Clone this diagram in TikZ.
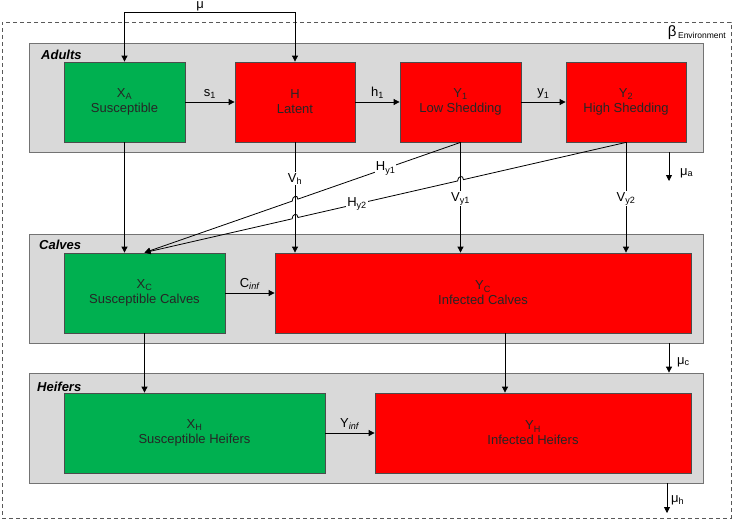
\documentclass[tikz,border=0pt]{standalone}
\usepackage{fontspec}
\setmainfont{Liberation Sans}
\usetikzlibrary{arrows.meta, positioning, calc}
\definecolor{suscep}{RGB}{0,176,80}
\definecolor{infect}{RGB}{255,0,0}
\definecolor{panel}{RGB}{217,217,217}

\begin{document}
\begin{tikzpicture}[
  x=1pt, y=-1pt,
  txt/.style={font=\fontsize{13}{15}\selectfont},
  comp/.style={draw=black!70, line width=0.8pt, minimum height=80pt, align=center,
               txt, text=black!85, inner sep=0pt},
  sus/.style={comp, fill=suscep},
  inf/.style={comp, fill=infect},
  grp/.style={draw=black!55, line width=0.8pt, fill=panel, minimum width=674pt, inner sep=0pt},
  ttl/.style={font=\fontsize{13}{15}\selectfont\bfseries\itshape, anchor=west, inner sep=0pt},
  lbl/.style={txt, inner sep=1pt},
  wlbl/.style={lbl, fill=white},
  arr/.style={-{Triangle[length=6pt, width=6pt]}, line width=0.8pt}
]
  \useasboundingbox (0,0) rectangle (733,520);

  % environment and age groups
  \node[draw=black!65, line width=0.8pt, dash pattern=on 4pt off 3pt, minimum width=729pt,
        minimum height=496pt, inner sep=0pt] (env) at (366.5,270) {};
  \node[anchor=east, inner sep=0pt] (envlbl) at (726,33)
    {{\fontsize{15}{17}\selectfont β}\,\raisebox{-2pt}{\fontsize{8.5}{10}\selectfont Environment}};

  \node[grp, minimum height=109pt] (adults) at (366,97.5) {};
  \node[grp, minimum height=109pt] (calves) at (366,288.5) {};
  \node[grp, minimum height=110pt] (heifers) at (366,428) {};
  \node[ttl] (adultsttl) at (41,55) {Adults};
  \node[ttl] (calvesttl) at (39,245) {Calves};
  \node[ttl] (heifersttl) at (37,387) {Heifers};

  % compartments
  \node[sus, minimum width=121pt] (XA) at (124.5,102) {X\textsubscript{A}\\Susceptible};
  \node[inf, minimum width=120pt] (H) at (295,102) {H\\Latent};
  \node[inf, minimum width=121pt] (Y1) at (460.5,102) {Y\textsubscript{1}\\Low Shedding};
  \node[inf, minimum width=120pt] (Y2) at (626,102) {Y\textsubscript{2}\\High Shedding};
  \node[sus, minimum width=161pt] (XC) at (144.5,293) {X\textsubscript{C}\\Susceptible Calves};
  \node[inf, minimum width=416pt] (YC) at (483,293) {Y\textsubscript{C}\\Infected Calves};
  \node[sus, minimum width=261pt] (XH) at (194.5,433) {X\textsubscript{H}\\Susceptible Heifers};
  \node[inf, minimum width=316pt] (YH) at (533,433) {Y\textsubscript{H}\\Infected Heifers};

  % birth
  \node[lbl, anchor=base, inner sep=0pt] (mu) at (200,8.5) {μ};
  \coordinate (mubar) at (200,12);
  \draw[arr] (mubar) -| (XA.north);
  \draw[arr] (mubar) -| (H.north);

  % progression
  \draw[arr] (XA) -- node[lbl, above=2pt] {s\textsubscript{1}} (H);
  \draw[arr] (H) -- node[lbl, above=2pt] {h\textsubscript{1}} (Y1);
  \draw[arr] (Y1) -- node[lbl, above=2pt] {y\textsubscript{1}} (Y2);
  \draw[arr] (XC) -- node[lbl, above=2pt] {C\textsubscript{\textit{inf}}} (YC);
  \draw[arr] (XH) -- node[lbl, above=2pt] {Y\textsubscript{\textit{inf}}} (YH);

  % vertical transmission
  \coordinate (vh) at (H.south |- YC.north);
  \coordinate (vy1) at (Y1.south |- YC.north);
  \coordinate (vy2) at (Y2.south |- YC.north);
  \draw[arr] (XA.south) -- (XA.south |- XC.north);
  \draw[arr] (H.south) -- node[wlbl, pos=0.33] {V\textsubscript{h}} (vh);
  \draw[arr] (Y1.south) -- node[wlbl, pos=0.51] {V\textsubscript{y1}} (vy1);
  \draw[arr] (Y2.south) -- node[wlbl, pos=0.51] {V\textsubscript{y2}} (vy2);

  % horizontal transmission, jumping over the vertical lines
  \coordinate (j1) at (intersection of Y1.south--XC.north and H.south--vh);
  \coordinate (j2) at (intersection of Y2.south--XC.north and Y1.south--vy1);
  \coordinate (j3) at (intersection of Y2.south--XC.north and H.south--vh);
  \draw[arr] (Y1.south)
    -- node[wlbl, pos=0.46] {H\textsubscript{y1}} ($(j1)!3pt!(Y1.south)$)
    .. controls +(0,-5) and +(0,-5) .. ($(j1)!3pt!(XC.north)$)
    -- (XC.north);
  \draw[arr] (Y2.south)
    -- ($(j2)!3pt!(Y2.south)$)
    .. controls +(0,-5) and +(0,-5) .. ($(j2)!3pt!(XC.north)$)
    -- node[wlbl, pos=0.63] {H\textsubscript{y2}} ($(j3)!3pt!(Y2.south)$)
    .. controls +(0,-5) and +(0,-5) .. ($(j3)!3pt!(XC.north)$)
    -- (XC.north);

  % ageing
  \coordinate (agec) at ([xshift=22pt]YC.south);
  \draw[arr] (XC.south) -- (XC.south |- XH.north);
  \draw[arr] (agec) -- (agec |- YH.north);

  % culling
  \coordinate (outa) at (669,181);
  \coordinate (outc) at (669,362);
  \coordinate (outh) at (667,513);
  \draw[arr] (adults.south -| outa) -- (outa);
  \draw[arr] (calves.south -| outc) -- (heifers.north -| outc);
  \draw[arr] (heifers.south -| outh) -- (outh);
  \node[lbl, anchor=west] (mua) at (679,173) {μ\textsubscript{a}};
  \node[lbl, anchor=west] (muc) at (676,362) {μ\textsubscript{c}};
  \node[lbl, anchor=west] (muh) at (670,500) {μ\textsubscript{h}};
\end{tikzpicture}
\end{document}
